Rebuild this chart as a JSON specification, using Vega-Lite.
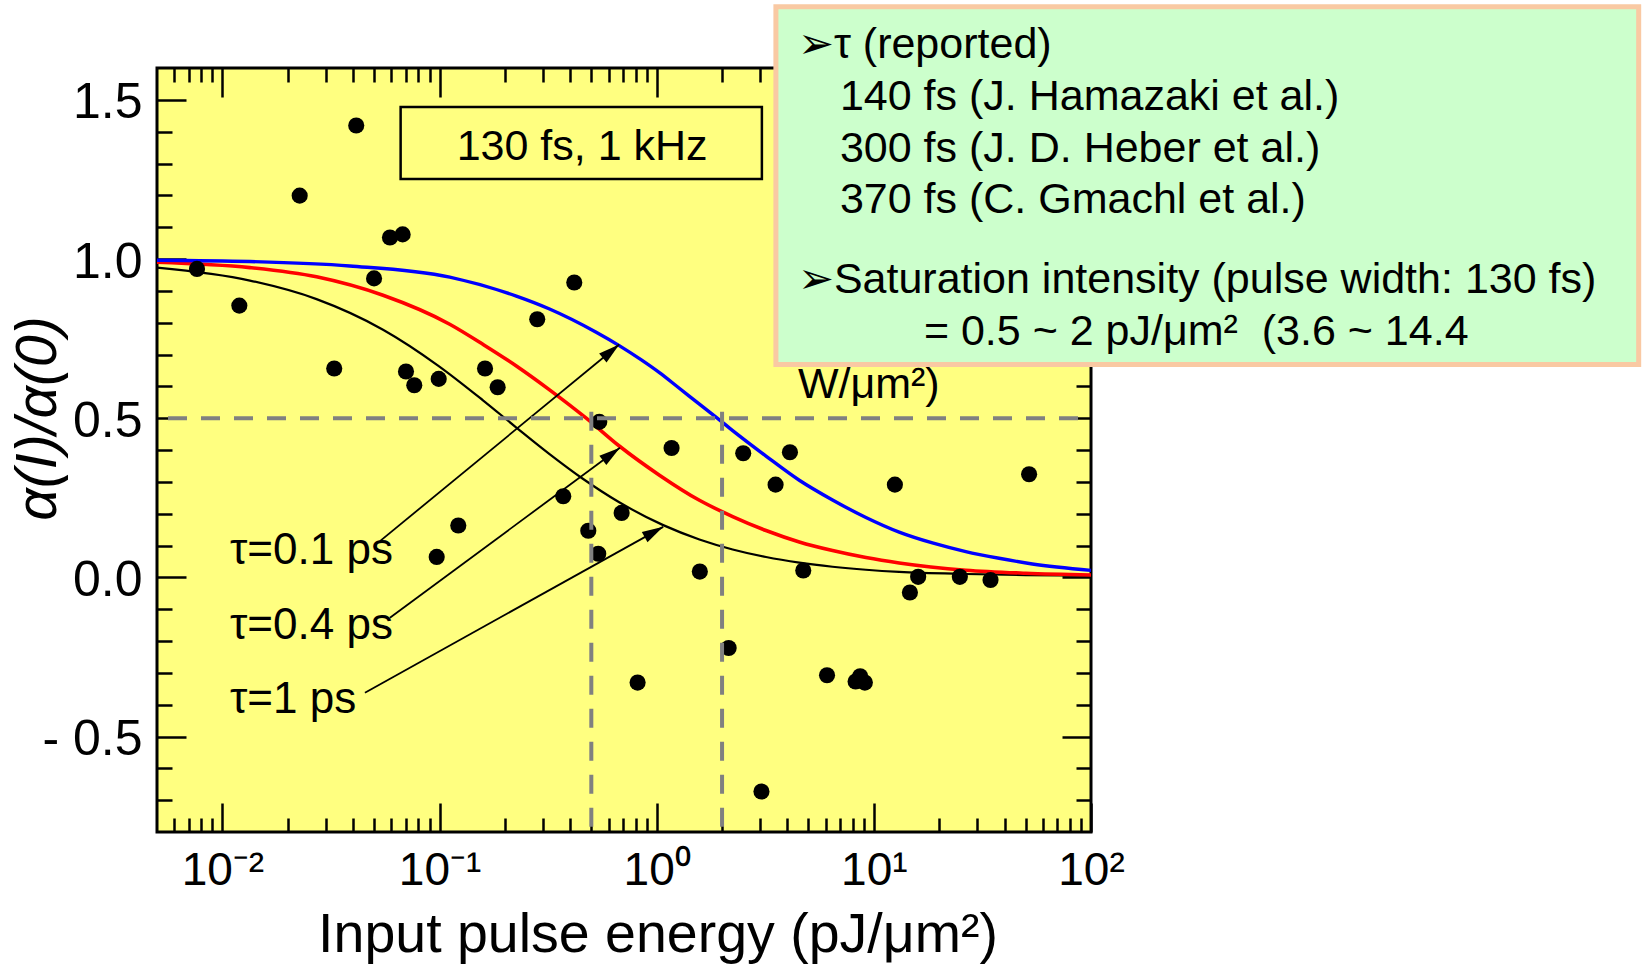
{
  "$schema": "https://vega.github.io/schema/vega-lite/v6.json",
  "width": 934,
  "height": 764,
  "autosize": {"type": "none"},
  "padding": {"left": 157, "top": 68, "right": 552, "bottom": 133},
  "background": "white",
  "config": {
    "font": "Liberation Sans",
    "view": {"stroke": "black", "strokeWidth": 3, "fill": "#FFFF80"},
    "axis": {"domain": false, "grid": false, "tickColor": "black", "tickWidth": 2.5, "labelColor": "black", "titleColor": "black", "titleFontWeight": "normal", "labelFlush": false, "labelOverlap": false, "labelBound": false}
  },
  "datasets": {
    "pts": [
      {"E": 0.00764, "A": 0.9688}, {"E": 0.01197, "A": 0.8536}, {"E": 0.0227, "A": 1.199}, {"E": 0.03274, "A": 0.6562},
      {"E": 0.04135, "A": 1.4194}, {"E": 0.04995, "A": 0.9391}, {"E": 0.05912, "A": 1.0674}, {"E": 0.06763, "A": 1.0773},
      {"E": 0.07008, "A": 0.6464}, {"E": 0.07651, "A": 0.6036}, {"E": 0.09913, "A": 0.6234}, {"E": 0.09705, "A": 0.0641},
      {"E": 0.122, "A": 0.1628}, {"E": 0.162, "A": 0.6562}, {"E": 0.1852, "A": 0.597}, {"E": 0.2818, "A": 0.8109},
      {"E": 0.3713, "A": 0.2549}, {"E": 0.4173, "A": 0.926}, {"E": 0.4842, "A": 0.1464}, {"E": 0.538, "A": 0.074},
      {"E": 0.5441, "A": 0.4885}, {"E": 0.6895, "A": 0.2023}, {"E": 0.8168, "A": -0.3306}, {"E": 1.171, "A": 0.4063},
      {"E": 1.58, "A": 0.0181}, {"E": 2.145, "A": -0.222}, {"E": 2.503, "A": 0.3898}, {"E": 3.037, "A": -0.6727},
      {"E": 3.528, "A": 0.2911}, {"E": 4.108, "A": 0.3931}, {"E": 4.731, "A": 0.0214}, {"E": 6.087, "A": -0.3076},
      {"E": 8.242, "A": -0.3273}, {"E": 8.647, "A": -0.3109}, {"E": 9.09, "A": -0.3306}, {"E": 12.5, "A": 0.2911},
      {"E": 14.66, "A": -0.0477}, {"E": 16.0, "A": 0.0016}, {"E": 24.89, "A": 0.0016}, {"E": 34.46, "A": -0.0082},
      {"E": 51.87, "A": 0.324}
    ],
    "curves": [
      {"tau": "1 ps", "E": 0.005, "A": 0.9728}, {"tau": "1 ps", "E": 0.01339, "A": 0.9323}, {"tau": "1 ps", "E": 0.02714, "A": 0.874},
      {"tau": "1 ps", "E": 0.05493, "A": 0.778}, {"tau": "1 ps", "E": 0.0988, "A": 0.6646}, {"tau": "1 ps", "E": 0.1585, "A": 0.5562},
      {"tau": "1 ps", "E": 0.2258, "A": 0.4706}, {"tau": "1 ps", "E": 0.3211, "A": 0.3872}, {"tau": "1 ps", "E": 0.457, "A": 0.3097},
      {"tau": "1 ps", "E": 0.6691, "A": 0.2366}, {"tau": "1 ps", "E": 1.0715, "A": 0.164}, {"tau": "1 ps", "E": 1.573, "A": 0.1191},
      {"tau": "1 ps", "E": 2.238, "A": 0.0876}, {"tau": "1 ps", "E": 3.187, "A": 0.0638}, {"tau": "1 ps", "E": 4.536, "A": 0.0462},
      {"tau": "1 ps", "E": 6.453, "A": 0.0333}, {"tau": "1 ps", "E": 9.194, "A": 0.0238}, {"tau": "1 ps", "E": 13.08, "A": 0.017},
      {"tau": "1 ps", "E": 26.51, "A": 0.0105}, {"tau": "1 ps", "E": 50, "A": 0.0072}, {"tau": "1 ps", "E": 100, "A": 0.005},
      {"tau": "0.4 ps", "E": 0.005, "A": 0.99}, {"tau": "0.4 ps", "E": 0.01339, "A": 0.973}, {"tau": "0.4 ps", "E": 0.02714, "A": 0.944},
      {"tau": "0.4 ps", "E": 0.05493, "A": 0.886}, {"tau": "0.4 ps", "E": 0.1114, "A": 0.795}, {"tau": "0.4 ps", "E": 0.16, "A": 0.73},
      {"tau": "0.4 ps", "E": 0.2258, "A": 0.664}, {"tau": "0.4 ps", "E": 0.3211, "A": 0.589}, {"tau": "0.4 ps", "E": 0.4738, "A": 0.5},
      {"tau": "0.4 ps", "E": 0.6772, "A": 0.411}, {"tau": "0.4 ps", "E": 1.0297, "A": 0.321}, {"tau": "0.4 ps", "E": 1.573, "A": 0.242},
      {"tau": "0.4 ps", "E": 2.238, "A": 0.191}, {"tau": "0.4 ps", "E": 3.187, "A": 0.147}, {"tau": "0.4 ps", "E": 4.536, "A": 0.111},
      {"tau": "0.4 ps", "E": 6.453, "A": 0.084}, {"tau": "0.4 ps", "E": 9.194, "A": 0.062}, {"tau": "0.4 ps", "E": 13.08, "A": 0.045},
      {"tau": "0.4 ps", "E": 26.51, "A": 0.0225}, {"tau": "0.4 ps", "E": 50, "A": 0.013}, {"tau": "0.4 ps", "E": 100, "A": 0.0075},
      {"tau": "0.1 ps", "E": 0.005, "A": 0.996}, {"tau": "0.1 ps", "E": 0.01339, "A": 0.992}, {"tau": "0.1 ps", "E": 0.03862, "A": 0.978},
      {"tau": "0.1 ps", "E": 0.1114, "A": 0.943}, {"tau": "0.1 ps", "E": 0.2258, "A": 0.8835}, {"tau": "0.1 ps", "E": 0.3211, "A": 0.843},
      {"tau": "0.1 ps", "E": 0.5265, "A": 0.77}, {"tau": "0.1 ps", "E": 0.6722, "A": 0.728}, {"tau": "0.1 ps", "E": 0.85, "A": 0.683},
      {"tau": "0.1 ps", "E": 1.0297, "A": 0.643}, {"tau": "0.1 ps", "E": 1.25, "A": 0.598}, {"tau": "0.1 ps", "E": 1.573, "A": 0.544},
      {"tau": "0.1 ps", "E": 1.9, "A": 0.5}, {"tau": "0.1 ps", "E": 2.238, "A": 0.461}, {"tau": "0.1 ps", "E": 3.187, "A": 0.381},
      {"tau": "0.1 ps", "E": 4.536, "A": 0.305}, {"tau": "0.1 ps", "E": 6.453, "A": 0.243}, {"tau": "0.1 ps", "E": 9.194, "A": 0.188},
      {"tau": "0.1 ps", "E": 13.08, "A": 0.142}, {"tau": "0.1 ps", "E": 18.61, "A": 0.108}, {"tau": "0.1 ps", "E": 26.51, "A": 0.081},
      {"tau": "0.1 ps", "E": 37.72, "A": 0.06}, {"tau": "0.1 ps", "E": 53.68, "A": 0.042}, {"tau": "0.1 ps", "E": 100, "A": 0.022}
    ],
    "arrows": [
      {"label": "τ=0.1 ps", "E": 0.05317, "A": 0.1137, "E2": 0.6722, "A2": 0.7312},
      {"label": "τ=0.4 ps", "E": 0.0591, "A": -0.1269, "E2": 0.6772, "A2": 0.4069},
      {"label": "τ=1 ps", "E": 0.04535, "A": -0.3623, "E2": 1.0715, "A2": 0.1586}
    ],
    "taulabels": [
      {"t": "τ=0.1 ps", "E": 0.01084, "A": 0.0405},
      {"t": "τ=0.4 ps", "E": 0.01084, "A": -0.1949},
      {"t": "τ=1 ps", "E": 0.01084, "A": -0.4251}
    ],
    "notes": [
      {"t": "➢τ (reported)", "E": 4.469, "A": 1.6716},
      {"t": "140 fs (J. Hamazaki et al.)", "E": 6.977, "A": 1.5099},
      {"t": "300 fs (J. D. Heber et al.)", "E": 6.977, "A": 1.3466},
      {"t": "370 fs (C. Gmachl et al.)", "E": 6.977, "A": 1.1849},
      {"t": "➢Saturation intensity (pulse width: 130 fs)", "E": 4.469, "A": 0.9337},
      {"t": "= 0.5 ~ 2 pJ/μm²\u00a0 (3.6 ~ 14.4", "E": 17.0, "A": 0.7721},
      {"t": "W/μm²)", "E": 4.469, "A": 0.6041}
    ]
  },
  "layer": [
    {
      "data": {"name": "curves"},
      "transform": [{"filter": "datum.tau == '1 ps'"}],
      "mark": {"type": "line", "color": "black", "strokeWidth": 2.2, "interpolate": "monotone"},
      "encoding": {
        "x": {"field": "E", "type": "quantitative", "scale": {"type": "log", "domain": [0.005, 100], "nice": false},
          "axis": {"orient": "top", "values": [0.006,0.007,0.008,0.009,0.01,0.02,0.03,0.04,0.05,0.06,0.07,0.08,0.09,0.1,0.2,0.3,0.4,0.5,0.6,0.7,0.8,0.9,1,2,3,4,5,6,7,8,9,10,20,30,40,50,60,70,80,90,100],
            "labels": false, "title": null,
            "tickSize": {"condition": {"test": "abs(log(datum.value)/LN10 - round(log(datum.value)/LN10)) < 0.001", "value": -29}, "value": -14}}},
        "y": {"field": "A", "type": "quantitative", "scale": {"domain": [-0.8, 1.6], "nice": false, "zero": false},
          "axis": {"orient": "right", "values": [-0.7,-0.6,-0.5,-0.4,-0.3,-0.2,-0.1,0,0.1,0.2,0.3,0.4,0.5,0.6,0.7,0.8,0.9,1,1.1,1.2,1.3,1.4,1.5],
            "labels": false, "title": null,
            "tickSize": {"condition": {"test": "abs(datum.value*2 - round(datum.value*2)) < 0.001", "value": -29}, "value": -15}}}
      }
    },
    {
      "data": {"name": "curves"},
      "transform": [{"filter": "datum.tau == '0.4 ps'"}],
      "mark": {"type": "line", "color": "#FF0000", "strokeWidth": 3.6, "interpolate": "monotone"},
      "encoding": {
        "x": {"field": "E", "type": "quantitative", "scale": {"type": "log", "domain": [0.005, 100], "nice": false}, "axis": null},
        "y": {"field": "A", "type": "quantitative", "scale": {"domain": [-0.8, 1.6], "nice": false, "zero": false}, "axis": null}
      }
    },
    {
      "data": {"name": "curves"},
      "transform": [{"filter": "datum.tau == '0.1 ps'"}],
      "mark": {"type": "line", "color": "#0000FF", "strokeWidth": 3.4, "interpolate": "monotone"},
      "encoding": {
        "x": {"field": "E", "type": "quantitative", "scale": {"type": "log", "domain": [0.005, 100], "nice": false}, "axis": null},
        "y": {"field": "A", "type": "quantitative", "scale": {"domain": [-0.8, 1.6], "nice": false, "zero": false}, "axis": null}
      }
    },
    {
      "data": {"name": "arrows"},
      "mark": {"type": "rule", "color": "black", "strokeWidth": 1.8},
      "encoding": {
        "x": {"field": "E", "type": "quantitative", "scale": {"type": "log", "domain": [0.005, 100], "nice": false}, "axis": null},
        "y": {"field": "A", "type": "quantitative", "scale": {"domain": [-0.8, 1.6], "nice": false, "zero": false}, "axis": null},
        "x2": {"field": "E2"},
        "y2": {"field": "A2"}
      }
    },
    {
      "data": {"name": "arrows"},
      "transform": [{"filter": "datum.label == 'τ=0.1 ps'"}],
      "mark": {"type": "point", "shape": "M0,0L0.55,2L-0.55,2Z", "size": 450, "filled": true, "color": "black", "opacity": 1, "angle": 50.6},
      "encoding": {
        "x": {"field": "E2", "type": "quantitative", "scale": {"type": "log", "domain": [0.005, 100], "nice": false}, "axis": null},
        "y": {"field": "A2", "type": "quantitative", "scale": {"domain": [-0.8, 1.6], "nice": false, "zero": false}, "axis": null}
      }
    },
    {
      "data": {"name": "arrows"},
      "transform": [{"filter": "datum.label == 'τ=0.4 ps'"}],
      "mark": {"type": "point", "shape": "M0,0L0.55,2L-0.55,2Z", "size": 450, "filled": true, "color": "black", "opacity": 1, "angle": 53.5},
      "encoding": {
        "x": {"field": "E2", "type": "quantitative", "scale": {"type": "log", "domain": [0.005, 100], "nice": false}, "axis": null},
        "y": {"field": "A2", "type": "quantitative", "scale": {"domain": [-0.8, 1.6], "nice": false, "zero": false}, "axis": null}
      }
    },
    {
      "data": {"name": "arrows"},
      "transform": [{"filter": "datum.label == 'τ=1 ps'"}],
      "mark": {"type": "point", "shape": "M0,0L0.55,2L-0.55,2Z", "size": 450, "filled": true, "color": "black", "opacity": 1, "angle": 60.9},
      "encoding": {
        "x": {"field": "E2", "type": "quantitative", "scale": {"type": "log", "domain": [0.005, 100], "nice": false}, "axis": null},
        "y": {"field": "A2", "type": "quantitative", "scale": {"domain": [-0.8, 1.6], "nice": false, "zero": false}, "axis": null}
      }
    },
    {
      "data": {"name": "pts"},
      "mark": {"type": "circle", "size": 260, "color": "black", "opacity": 1},
      "encoding": {
        "x": {"field": "E", "type": "quantitative", "scale": {"type": "log", "domain": [0.005, 100], "nice": false},
          "axis": {"orient": "bottom", "values": [0.006,0.007,0.008,0.009,0.01,0.02,0.03,0.04,0.05,0.06,0.07,0.08,0.09,0.1,0.2,0.3,0.4,0.5,0.6,0.7,0.8,0.9,1,2,3,4,5,6,7,8,9,10,20,30,40,50,60,70,80,90,100],
            "tickSize": {"condition": {"test": "abs(log(datum.value)/LN10 - round(log(datum.value)/LN10)) < 0.001", "value": -29}, "value": -14},
            "labelExpr": "abs(log(datum.value)/LN10 - round(log(datum.value)/LN10)) < 0.001 ? ['10⁻²','10⁻¹','10⁰','10¹','10²'][round(log(datum.value)/LN10)+2] : ''",
            "labelFont": "Liberation Sans", "labelFontSize": 46, "labelPadding": 45, "labelBaseline": "top", "labelAlign": "center",
            "title": "Input pulse energy (pJ/μm²)", "titleFontSize": 55.5, "titleX": 500.5, "titleY": 119, "titleAlign": "center", "titleBaseline": "alphabetic"}},
        "y": {"field": "A", "type": "quantitative", "scale": {"domain": [-0.8, 1.6], "nice": false, "zero": false},
          "axis": {"orient": "left", "values": [-0.7,-0.6,-0.5,-0.4,-0.3,-0.2,-0.1,0,0.1,0.2,0.3,0.4,0.5,0.6,0.7,0.8,0.9,1,1.1,1.2,1.3,1.4,1.5],
            "tickSize": {"condition": {"test": "abs(datum.value*2 - round(datum.value*2)) < 0.001", "value": -29}, "value": -15},
            "labelExpr": "abs(datum.value*2 - round(datum.value*2)) < 0.001 ? (datum.value < -0.001 ? '- ' + format(-datum.value, '.1f') : format(abs(datum.value), '.1f')) : ''",
            "labelFontSize": 50, "labelPadding": 44, "labelBaseline": "middle", "labelOffset": 3,
            "title": "α(I)/α(0)", "titleFontSize": 57, "titleFontStyle": "italic", "titleX": -119, "titleY": 350, "titleAngle": -90, "titleAlign": "center", "titleBaseline": "middle"}}
      }
    },
    {
      "data": {"values": [{"E": 0.005, "E2": 100, "A": 0.5}]},
      "mark": {"type": "rule", "color": "#808080", "strokeWidth": 4, "strokeDash": [19, 14], "strokeDashOffset": 22},
      "encoding": {
        "x": {"field": "E", "type": "quantitative", "scale": {"type": "log", "domain": [0.005, 100], "nice": false}, "axis": null},
        "x2": {"field": "E2"},
        "y": {"field": "A", "type": "quantitative", "scale": {"domain": [-0.8, 1.6], "nice": false, "zero": false}, "axis": null}
      }
    },
    {
      "data": {"values": [{"E": 0.5, "A": 0.52, "A2": -0.8}, {"E": 2, "A": 0.52, "A2": -0.8}]},
      "mark": {"type": "rule", "color": "#808080", "strokeWidth": 4, "strokeDash": [19, 14]},
      "encoding": {
        "x": {"field": "E", "type": "quantitative", "scale": {"type": "log", "domain": [0.005, 100], "nice": false}, "axis": null},
        "y": {"field": "A", "type": "quantitative", "scale": {"domain": [-0.8, 1.6], "nice": false, "zero": false}, "axis": null},
        "y2": {"field": "A2"}
      }
    },
    {
      "data": {"name": "taulabels"},
      "mark": {"type": "text", "align": "left", "baseline": "alphabetic", "fontSize": 44, "color": "black"},
      "encoding": {
        "x": {"field": "E", "type": "quantitative", "scale": {"type": "log", "domain": [0.005, 100], "nice": false}, "axis": null},
        "y": {"field": "A", "type": "quantitative", "scale": {"domain": [-0.8, 1.6], "nice": false, "zero": false}, "axis": null},
        "text": {"field": "t"}
      }
    },
    {
      "data": {"values": [{"E": 0.0662, "E2": 3.051, "A": 1.4776, "A2": 1.2515}]},
      "mark": {"type": "rect", "filled": false, "stroke": "black", "strokeWidth": 2.5},
      "encoding": {
        "x": {"field": "E", "type": "quantitative", "scale": {"type": "log", "domain": [0.005, 100], "nice": false}, "axis": null},
        "x2": {"field": "E2"},
        "y": {"field": "A", "type": "quantitative", "scale": {"domain": [-0.8, 1.6], "nice": false, "zero": false}, "axis": null},
        "y2": {"field": "A2"}
      }
    },
    {
      "data": {"values": [{"t": "130 fs, 1 kHz", "E": 0.4536, "A": 1.3121}]},
      "mark": {"type": "text", "align": "center", "baseline": "alphabetic", "fontSize": 43, "color": "black"},
      "encoding": {
        "x": {"field": "E", "type": "quantitative", "scale": {"type": "log", "domain": [0.005, 100], "nice": false}, "axis": null},
        "y": {"field": "A", "type": "quantitative", "scale": {"domain": [-0.8, 1.6], "nice": false, "zero": false}, "axis": null},
        "text": {"field": "t"}
      }
    },
    {
      "data": {"values": [{"E": 3.54, "E2": 33270, "A": 1.7925, "A2": 0.6685}]},
      "mark": {"type": "rect", "fill": "#CCFFCC", "stroke": "#F9C9A3", "strokeWidth": 5},
      "encoding": {
        "x": {"field": "E", "type": "quantitative", "scale": {"type": "log", "domain": [0.005, 100], "nice": false}, "axis": null},
        "x2": {"field": "E2"},
        "y": {"field": "A", "type": "quantitative", "scale": {"domain": [-0.8, 1.6], "nice": false, "zero": false}, "axis": null},
        "y2": {"field": "A2"}
      }
    },
    {
      "data": {"name": "notes"},
      "mark": {"type": "text", "align": "left", "baseline": "middle", "fontSize": 43, "color": "black"},
      "encoding": {
        "x": {"field": "E", "type": "quantitative", "scale": {"type": "log", "domain": [0.005, 100], "nice": false}, "axis": null},
        "y": {"field": "A", "type": "quantitative", "scale": {"domain": [-0.8, 1.6], "nice": false, "zero": false}, "axis": null},
        "text": {"field": "t"}
      }
    }
  ],
  "resolve": {"axis": {"x": "independent", "y": "independent"}}
}
